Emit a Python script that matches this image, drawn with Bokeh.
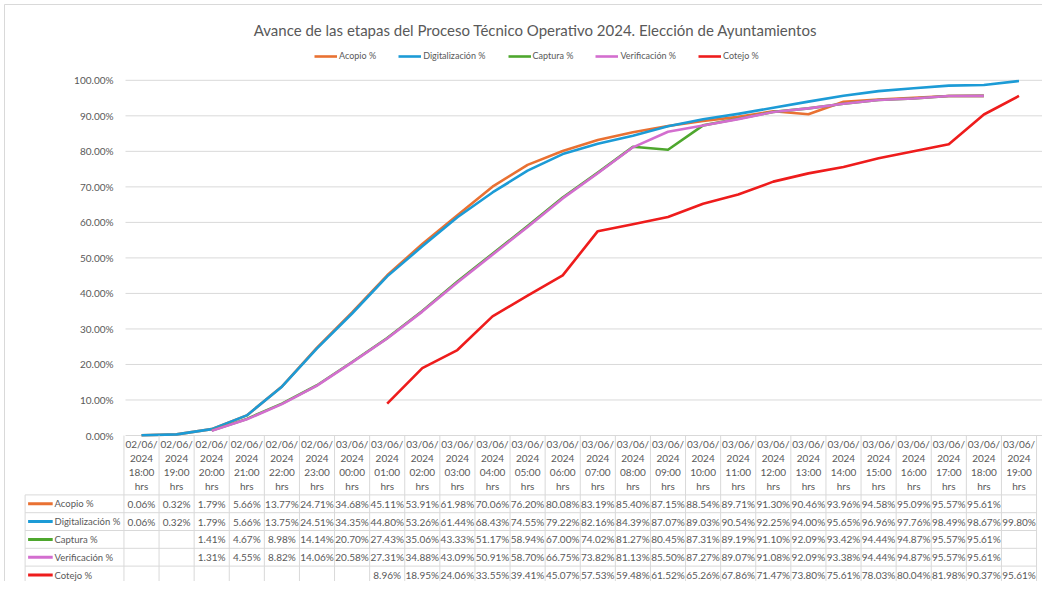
from bokeh.plotting import figure
from bokeh.models import Range1d, Legend, LegendItem
from bokeh.core.properties import value
from bokeh.embed import file_html
from bokeh.resources import INLINE

# ---------------- data ----------------
title_text = "Avance de las etapas del Proceso Técnico Operativo 2024. Elección de Ayuntamientos"

cat_dates = ["02/06/"] * 6 + ["03/06/"] * 20
cat_years = ["2024"] * 26
cat_hours = ["18:00", "19:00", "20:00", "21:00", "22:00", "23:00",
             "00:00", "01:00", "02:00", "03:00", "04:00", "05:00", "06:00",
             "07:00", "08:00", "09:00", "10:00", "11:00", "12:00", "13:00",
             "14:00", "15:00", "16:00", "17:00", "18:00", "19:00"]
cat_units = ["hrs"] * 26

series_names = ["Acopio %", "Digitalización %", "Captura %", "Verificación %", "Cotejo %"]

acopio = [0.06, 0.32, 1.79, 5.66, 13.77, 24.71, 34.68, 45.11, 53.91, 61.98, 70.06,
          76.20, 80.08, 83.19, 85.40, 87.15, 88.54, 89.71, 91.30, 90.46, 93.96,
          94.58, 95.09, 95.57, 95.61, None]
digitalizacion = [0.06, 0.32, 1.79, 5.66, 13.75, 24.51, 34.35, 44.80, 53.26, 61.44,
                  68.43, 74.55, 79.22, 82.16, 84.39, 87.07, 89.03, 90.54, 92.25,
                  94.00, 95.65, 96.96, 97.76, 98.49, 98.67, 99.80]
captura = [None, None, 1.41, 4.67, 8.98, 14.14, 20.70, 27.43, 35.06, 43.33, 51.17,
           58.94, 67.00, 74.02, 81.27, 80.45, 87.31, 89.19, 91.10, 92.09, 93.42,
           94.44, 94.87, 95.57, 95.61, None]
verificacion = [None, None, 1.31, 4.55, 8.82, 14.06, 20.58, 27.31, 34.88, 43.09,
                50.91, 58.70, 66.75, 73.82, 81.13, 85.50, 87.27, 89.07, 91.08,
                92.09, 93.38, 94.44, 94.87, 95.57, 95.61, None]
cotejo = [None, None, None, None, None, None, None, 8.96, 18.95, 24.06, 33.55,
          39.41, 45.07, 57.53, 59.48, 61.52, 65.26, 67.86, 71.47, 73.80, 75.61,
          78.03, 80.04, 81.98, 90.37, 95.61]

y_ticks = [0.0, 0.1, 0.2, 0.3, 0.4, 0.5, 0.6, 0.7, 0.8, 0.9, 1.0]
y_tick_labels = ["0.00%", "10.00%", "20.00%", "30.00%", "40.00%", "50.00%",
                 "60.00%", "70.00%", "80.00%", "90.00%", "100.00%"]

colors = ["#E97132", "#1C9BD6", "#4EA72E", "#D36ECF", "#EE1C1C"]

# ---------------- layout (figure pixels -> data coords) ----------------
W, H = 1042, 581
X0, COLW = 141.0, 35.1      # pixel centre of first category, column width
Y0, YS = 435.0, 355.2       # pixel of 0 %, pixels per 100 %


def X(px):
    return (px - X0) / COLW


def Y(py):
    return (Y0 - py) / YS


FONT = value("Lato")
GREY = "#595959"
LINEC = "#D9D9D9"

p = figure(width=W, height=H, output_backend="svg", toolbar_location=None,
           x_axis_type=None, y_axis_type=None, min_border=0,
           x_range=Range1d(X(0), X(W)), y_range=Range1d(Y(H), Y(0)))
p.outline_line_color = None
p.background_fill_color = "white"

n = len(cat_hours)
xs = list(range(n))

# chart border (top / left)
p.segment(x0=[X(4), X(4)], x1=[X(W), X(4)], y0=[Y(4), Y(4)], y1=[Y(4), Y(H)],
          line_color=LINEC, line_width=1)

# gridlines
p.segment(x0=[X(125)] * len(y_ticks), x1=[X(W)] * len(y_ticks),
          y0=y_ticks, y1=y_ticks, line_color=LINEC, line_width=1)

# y tick labels
p.text(x=[X(113)] * len(y_ticks), y=y_ticks, text=y_tick_labels,
       text_font=FONT, text_font_size="10px", text_color=GREY,
       text_align="right", text_baseline="middle")

# title
p.text(x=[X(535)], y=[Y(29)], text=[title_text], text_font=FONT,
       text_font_size="15px", text_color=GREY, text_align="center",
       text_baseline="middle")

# series lines
all_series = [acopio, digitalizacion, captura, verificacion, cotejo]
renderers = []
for name, vals, col in zip(series_names, all_series, colors):
    yv = [float("nan") if v is None else v / 100.0 for v in vals]
    r = p.line(x=xs, y=yv, line_color=col, line_width=2.6, line_join="round")
    renderers.append(r)

legend = Legend(items=[LegendItem(label=nm, renderers=[r]) for nm, r in zip(series_names, renderers)],
                orientation="horizontal", location=(314, H - 61))
legend.label_text_font = "Lato"
legend.label_text_font_size = "9px"
legend.label_text_color = GREY
legend.glyph_width = 23
legend.glyph_height = 10
legend.label_standoff = 2
legend.spacing = 22
legend.padding = 0
legend.margin = 0
legend.border_line_color = None
legend.background_fill_alpha = 0
legend.label_height = 10
p.add_layout(legend)

# ---------------- data table ----------------
HDR_TOP = Y0
HDR_BOT = 494.4
ROW_H = 17.8
TBL_LEFT = 24.6
n_rows = len(series_names)
row_bounds = [HDR_BOT + k * ROW_H for k in range(n_rows + 1)]
row_centres = [HDR_BOT + (k + 0.5) * ROW_H for k in range(n_rows)]

# vertical cell borders
vx = [i - 0.5 for i in range(n + 1)]
p.segment(x0=vx, x1=vx, y0=[Y(HDR_TOP)] * len(vx), y1=[Y(row_bounds[-1])] * len(vx),
          line_color=LINEC, line_width=1)
p.segment(x0=[X(TBL_LEFT)], x1=[X(TBL_LEFT)], y0=[Y(HDR_BOT)], y1=[Y(row_bounds[-1])],
          line_color=LINEC, line_width=1)
# horizontal row borders
p.segment(x0=[X(TBL_LEFT)] * len(row_bounds), x1=[n - 0.5] * len(row_bounds),
          y0=[Y(b) for b in row_bounds], y1=[Y(b) for b in row_bounds],
          line_color=LINEC, line_width=1)

# header (category labels, 4 lines)
hdr_lines_y = [443.8, 457.6, 471.6, 485.4]
for k, lines in enumerate([cat_dates, cat_years, cat_hours, cat_units]):
    p.text(x=xs, y=[Y(hdr_lines_y[k])] * n, text=lines, text_font=FONT,
           text_font_size="10px", text_color=GREY, text_align="center",
           text_baseline="middle")

# rows
for k, (name, vals, col) in enumerate(zip(series_names, all_series, colors)):
    yc = Y(row_centres[k])
    p.segment(x0=[X(27.6)], x1=[X(52.2)], y0=[yc], y1=[yc], line_color=col, line_width=3)
    p.text(x=[X(54)], y=[yc], text=[name], text_font=FONT, text_font_size="9.5px",
           text_color=GREY, text_align="left", text_baseline="middle")
    tx = [i for i, v in enumerate(vals) if v is not None]
    tt = ["%.2f%%" % v for v in vals if v is not None]
    p.text(x=tx, y=[yc] * len(tx), text=tt, text_font=FONT, text_font_size="10px",
           text_color=GREY, text_align="center", text_baseline="middle")

open("out.html", "w").write(file_html(p, INLINE))
